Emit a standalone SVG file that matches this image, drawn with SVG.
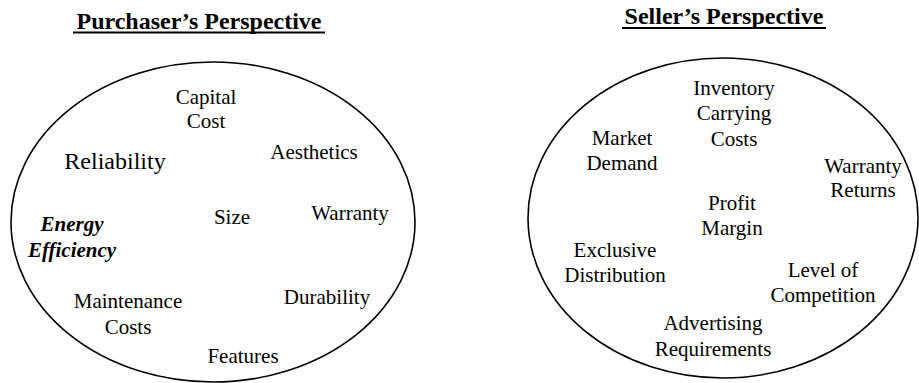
<svg xmlns="http://www.w3.org/2000/svg" width="919" height="383" viewBox="0 0 919 383" font-family="Liberation Serif">
<style>
svg g text, svg text{font-family:"Liberation Serif",serif !important}
.t{font-size:21px;text-anchor:middle}
.h{font-size:24px;font-weight:bold;text-anchor:middle}
.big{font-size:24px;text-anchor:middle}
.bi{font-size:21px;font-weight:bold;font-style:italic;text-anchor:middle}
.e{fill:none;stroke:#000;stroke-width:1.6}
.u{stroke:#000;stroke-width:2}
</style>
<rect width="919" height="383" fill="#fff"/>
<g id="purchaser">
<text class="h" style="font-family:'Liberation Serif',serif !important" x="199" y="29">Purchaser’s Perspective</text>
<line class="u" x1="73" y1="32.5" x2="325" y2="32.5"/>
<ellipse class="e" cx="213" cy="222" rx="202" ry="160"/>
<g id="p-capital"><text class="t" style="font-family:'Liberation Serif',serif !important" x="206" y="104">Capital</text><text class="t" style="font-family:'Liberation Serif',serif !important" x="206" y="128">Cost</text></g>
<g id="p-reliability"><text class="big" style="font-family:'Liberation Serif',serif !important" x="115" y="169">Reliability</text></g>
<g id="p-aesthetics"><text class="t" style="font-family:'Liberation Serif',serif !important" x="314" y="159">Aesthetics</text></g>
<g id="p-energy"><text class="bi" style="font-family:'Liberation Serif',serif !important" x="72" y="231">Energy</text><text class="bi" style="font-family:'Liberation Serif',serif !important" x="72" y="257">Efficiency</text></g>
<g id="p-size"><text class="t" style="font-family:'Liberation Serif',serif !important" x="232" y="224">Size</text></g>
<g id="p-warranty"><text class="t" style="font-family:'Liberation Serif',serif !important" x="350" y="220">Warranty</text></g>
<g id="p-maintenance"><text class="t" style="font-family:'Liberation Serif',serif !important" x="128" y="308">Maintenance</text><text class="t" style="font-family:'Liberation Serif',serif !important" x="128" y="334">Costs</text></g>
<g id="p-durability"><text class="t" style="font-family:'Liberation Serif',serif !important" x="327" y="304">Durability</text></g>
<g id="p-features"><text class="t" style="font-family:'Liberation Serif',serif !important" x="243" y="363">Features</text></g>
</g>
<g id="seller">
<text class="h" style="font-family:'Liberation Serif',serif !important" x="724" y="24">Seller’s Perspective</text>
<line class="u" x1="622" y1="28" x2="826" y2="28"/>
<ellipse class="e" cx="723" cy="218" rx="195" ry="160"/>
<g id="s-inventory"><text class="t" style="font-family:'Liberation Serif',serif !important" x="734" y="95">Inventory</text><text class="t" style="font-family:'Liberation Serif',serif !important" x="734" y="120">Carrying</text><text class="t" style="font-family:'Liberation Serif',serif !important" x="734" y="146">Costs</text></g>
<g id="s-market"><text class="t" style="font-family:'Liberation Serif',serif !important" x="622" y="145">Market</text><text class="t" style="font-family:'Liberation Serif',serif !important" x="622" y="170">Demand</text></g>
<g id="s-warranty"><text class="t" style="font-family:'Liberation Serif',serif !important" x="863" y="173">Warranty</text><text class="t" style="font-family:'Liberation Serif',serif !important" x="863" y="197">Returns</text></g>
<g id="s-profit"><text class="t" style="font-family:'Liberation Serif',serif !important" x="732" y="210">Profit</text><text class="t" style="font-family:'Liberation Serif',serif !important" x="732" y="235">Margin</text></g>
<g id="s-exclusive"><text class="t" style="font-family:'Liberation Serif',serif !important" x="615" y="257">Exclusive</text><text class="t" style="font-family:'Liberation Serif',serif !important" x="615" y="282">Distribution</text></g>
<g id="s-competition"><text class="t" style="font-family:'Liberation Serif',serif !important" x="823" y="277">Level of</text><text class="t" style="font-family:'Liberation Serif',serif !important" x="823" y="302">Competition</text></g>
<g id="s-advertising"><text class="t" style="font-family:'Liberation Serif',serif !important" x="713" y="330">Advertising</text><text class="t" style="font-family:'Liberation Serif',serif !important" x="713" y="356">Requirements</text></g>
</g>
<g id="connectors"/>
</svg>
